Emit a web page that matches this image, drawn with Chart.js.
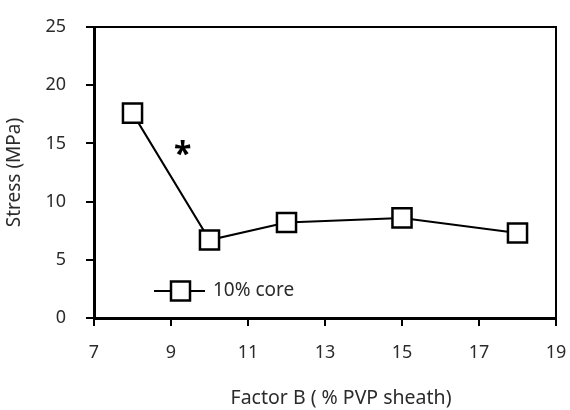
<!DOCTYPE html>
<html>
<head>
<meta charset="utf-8">
<script src="https://cdn.jsdelivr.net/npm/chart.js@4.4.1/dist/chart.umd.min.js"></script>
<style>
  html, body { margin: 0; padding: 0; background: #fff; }
  #wrap { width: 570px; height: 410px; }
</style>
</head>
<body>
<div id="wrap"><canvas id="stressChart" width="570" height="410"></canvas></div>
<script>
// PVP sheath content (%) and measured stress (MPa)
const pvpSheath = [8, 10, 12, 15, 18];
const stressCore10 = [17.6, 6.7, 8.2, 8.6, 7.3];
const seriesLabel = '10% core';
const xTicks = [7, 9, 11, 13, 15, 17, 19];
const yTicks = [0, 5, 10, 15, 20, 25];
const xTitle = 'Factor B ( % PVP sheath)';
const yTitle = 'Stress (MPa)';
// significance marker
const starPos = { x: 9.3, y: 14.4, text: '*' };

const FONT = "'Noto Sans', 'Open Sans', sans-serif";
const TEXT = '#2b2b2b';

// top/right frame lines, asterisk, x title and the in-plot legend
const framePlugin = {
  id: 'frame',
  afterDraw(chart) {
    const { ctx, chartArea: a, scales } = chart;
    ctx.save();
    ctx.strokeStyle = '#000';
    ctx.lineWidth = 2;
    ctx.beginPath();
    ctx.moveTo(a.left, a.top);
    ctx.lineTo(a.right, a.top);
    ctx.lineTo(a.right, a.bottom);
    ctx.stroke();

    // asterisk
    ctx.fillStyle = '#000';
    ctx.font = 'bold 32px ' + FONT;
    ctx.textAlign = 'center';
    ctx.textBaseline = 'middle';
    ctx.fillText(starPos.text, scales.x.getPixelForValue(starPos.x), scales.y.getPixelForValue(starPos.y) + 6);

    // x axis title, set a little right of centre
    ctx.fillStyle = TEXT;
    ctx.font = '19.5px ' + FONT;
    ctx.fillText(xTitle, (a.left + a.right) / 2 + 16, chart.height - 12);

    // legend
    const ly = a.bottom - 27;
    const lx = a.left + 60;
    ctx.lineWidth = 2;
    ctx.beginPath();
    ctx.moveTo(lx, ly);
    ctx.lineTo(lx + 51, ly);
    ctx.stroke();
    ctx.fillStyle = '#fff';
    ctx.fillRect(lx + 17, ly - 9.5, 19, 19);
    ctx.lineWidth = 2.5;
    ctx.strokeRect(lx + 17, ly - 9.5, 19, 19);
    ctx.fillStyle = TEXT;
    ctx.font = '19px ' + FONT;
    ctx.textAlign = 'left';
    ctx.fillText(seriesLabel, lx + 59, ly);
    ctx.restore();
  }
};

const ctx = document.getElementById('stressChart').getContext('2d');
new Chart(ctx, {
  type: 'line',
  data: {
    datasets: [{
      label: seriesLabel,
      data: pvpSheath.map((x, i) => ({ x: x, y: stressCore10[i] })),
      borderColor: '#000',
      borderWidth: 2,
      pointStyle: 'rect',
      pointRadius: 13.5,
      pointBorderWidth: 2.5,
      pointBackgroundColor: '#fff',
      pointBorderColor: '#000',
      tension: 0
    }]
  },
  options: {
    responsive: false,
    animation: false,
    layout: { padding: { top: 27, right: 14, left: 0, bottom: 0 } },
    plugins: { legend: { display: false }, tooltip: { enabled: false } },
    scales: {
      x: {
        type: 'linear',
        min: 7,
        max: 19,
        afterBuildTicks(scale) { scale.ticks = xTicks.map(v => ({ value: v })); },
        afterFit(scale) {
          scale.height = 92;
          scale.paddingLeft = 0;
          scale.paddingRight = 0;
        },
        afterUpdate(scale) {
          // no extra room for the end labels
          scale.paddingRight = 0;
        },
        border: { color: '#000', width: 3 },
        grid: { drawOnChartArea: false, drawTicks: true, tickLength: 8, color: '#000', lineWidth: 2 },
        ticks: { color: TEXT, font: { family: FONT, size: 18 }, padding: 16 }
      },
      y: {
        type: 'linear',
        min: 0,
        max: 25,
        afterBuildTicks(scale) { scale.ticks = yTicks.map(v => ({ value: v })); },
        afterFit(scale) {
          scale.width = 94;
          scale.paddingTop = 0;
          scale.paddingBottom = 0;
        },
        border: { color: '#000', width: 3 },
        grid: { drawOnChartArea: false, drawTicks: true, tickLength: 8, color: '#000', lineWidth: 2 },
        ticks: { color: TEXT, font: { family: FONT, size: 18 }, padding: 20 },
        title: {
          display: true,
          text: yTitle,
          color: TEXT,
          font: { family: FONT, size: 19 },
          padding: { top: 3, bottom: 0 }
        }
      }
    }
  },
  plugins: [framePlugin, {
    id: 'areaFix',
    // pin the plot area to the layout padding on the right
    afterLayout(chart) {
      const pad = chart.options.layout.padding.right;
      const right = chart.width - pad;
      chart.chartArea.right = right;
      chart.chartArea.width = right - chart.chartArea.left;
      const x = chart.scales.x;
      x.right = right;
      x.width = right - x.left;
      x.configure();
    }
  }]
});
</script>
</body>
</html>
